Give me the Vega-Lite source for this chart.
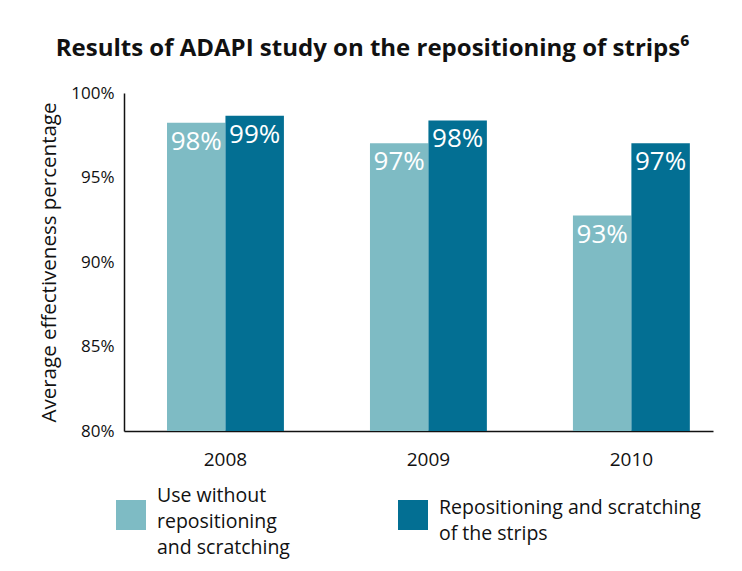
{
  "$schema": "https://vega.github.io/schema/vega-lite/v6.json",
  "autosize": {"type": "none"},
  "width": 589,
  "height": 338,
  "padding": {"left": 124, "top": 93, "right": 29, "bottom": 140},
  "background": "white",
  "config": {
    "font": "Open Sans",
    "view": {"stroke": null},
    "legend": {
      "title": null,
      "orient": "none",
      "symbolType": "square",
      "symbolSize": 900,
      "symbolStrokeWidth": 0,
      "symbolOpacity": 1,
      "labelFontSize": 19.5,
      "labelColor": "#111111",
      "labelOffset": 11,
      "labelLimit": 400
    }
  },
  "title": {
    "text": "Results of ADAPI study on the repositioning of strips⁶",
    "font": "Open Sans",
    "fontSize": 24,
    "fontWeight": "bold",
    "color": "#111111",
    "anchor": "middle",
    "dx": -46,
    "offset": 23
  },
  "data": {
    "values": [
      {"year": "2008", "series": "Use without repositioning and scratching", "value": 0.9824},
      {"year": "2008", "series": "Repositioning and scratching of the strips", "value": 0.9866},
      {"year": "2009", "series": "Use without repositioning and scratching", "value": 0.9703},
      {"year": "2009", "series": "Repositioning and scratching of the strips", "value": 0.9838},
      {"year": "2010", "series": "Use without repositioning and scratching", "value": 0.9275},
      {"year": "2010", "series": "Repositioning and scratching of the strips", "value": 0.9703}
    ]
  },
  "encoding": {
    "x": {
      "field": "year", "type": "nominal",
      "scale": {"paddingInner": 0.424, "paddingOuter": 0.163, "align": 0.65},
      "axis": {
        "title": null, "labelAngle": 0, "ticks": false,
        "labelFontSize": 19, "labelColor": "#111111", "labelPadding": 19,
        "domainColor": "#111111", "domainWidth": 1.5
      }
    },
    "xOffset": {
      "field": "series", "type": "nominal",
      "sort": ["Use without repositioning and scratching", "Repositioning and scratching of the strips"],
      "scale": {"domain": ["Use without repositioning and scratching", "Repositioning and scratching of the strips"]}
    },
    "y": {
      "field": "value", "type": "quantitative",
      "scale": {"domain": [0.8, 1], "zero": false, "nice": false},
      "axis": {
        "title": "Average effectiveness percentage",
        "titleFontSize": 20.5, "titleFontWeight": "normal", "titleColor": "#111111",
        "titlePadding": 11,
        "values": [0.8, 0.85, 0.9, 0.95, 1],
        "format": ".0%",
        "ticks": false, "grid": false,
        "labelFontSize": 17, "labelColor": "#111111", "labelPadding": 10,
        "domainColor": "#111111", "domainWidth": 1.5
      }
    }
  },
  "layer": [
    {
      "transform": [{"filter": "datum.series == 'Use without repositioning and scratching'"}],
      "mark": {"type": "bar", "clip": true},
      "encoding": {
        "color": {
          "field": "series", "type": "nominal",
          "scale": {"range": ["#7EBBC4"]},
          "legend": {
            "legendX": -8,
            "legendY": 407,
            "labelExpr": "['Use without', 'repositioning', 'and scratching']",
            "encode": {"labels": {"update": {
              "lineHeight": {"value": 26},
              "dy": {"value": -19}
            }}}
          }
        }
      }
    },
    {
      "transform": [{"filter": "datum.series == 'Repositioning and scratching of the strips'"}],
      "mark": {"type": "bar", "clip": true},
      "encoding": {
        "fill": {
          "field": "series", "type": "nominal",
          "scale": {"range": ["#036F93"]},
          "legend": {
            "legendX": 274,
            "legendY": 407,
            "labelExpr": "['Repositioning and scratching', 'of the strips']",
            "encode": {"labels": {"update": {
              "lineHeight": {"value": 26},
              "dy": {"value": -7}
            }}}
          }
        }
      }
    },
    {
      "mark": {"type": "text", "baseline": "top", "dy": 6, "color": "white", "fontSize": 26, "font": "Open Sans"},
      "encoding": {
        "text": {"field": "value", "type": "quantitative", "format": ".0%"}
      }
    }
  ]
}
